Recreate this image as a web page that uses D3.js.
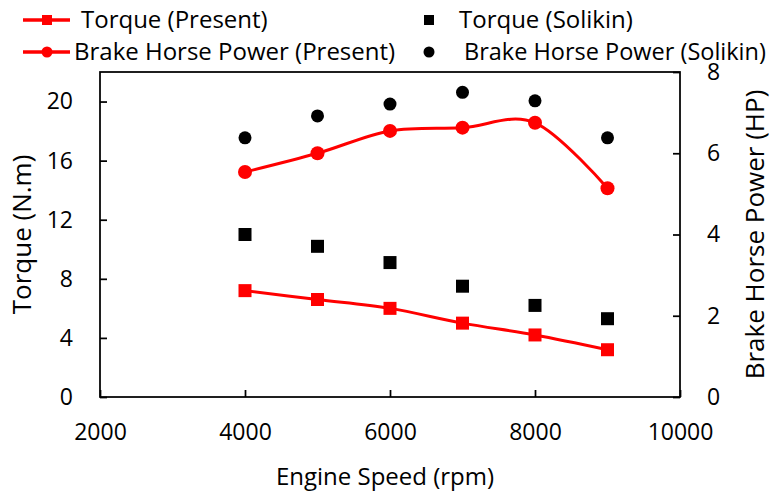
<!DOCTYPE html>
<html>
<head>
<meta charset="utf-8">
<script src="https://cdn.jsdelivr.net/npm/d3@7"></script>
<style>
  body { margin: 0; background: white; }
  text { font-family: "Open Sans", sans-serif; fill: #000; }
</style>
</head>
<body>
<script>
// ==== Data ====
var speeds = [4000, 5000, 6000, 7000, 8000, 9000];
var torquePresent = [7.2, 6.6, 6.0, 5.0, 4.2, 3.2];
var torqueSolikin = [11.0, 10.2, 9.1, 7.5, 6.2, 5.3];
var bhpPresent = [5.54, 6.0, 6.55, 6.63, 6.75, 5.14];
var bhpSolikin = [6.38, 6.92, 7.21, 7.5, 7.29, 6.38];

var xTicks = [2000, 4000, 6000, 8000, 10000];
var leftTicks = [0, 4, 8, 12, 16, 20];
var rightTicks = [0, 2, 4, 6, 8];

var red = "#ff0000",
    black = "#000000";

var width = 777,
    height = 493;

var margin = {
        top: 72,
        right: 97,
        bottom: 96,
        left: 100
    };

var svg = d3.select("body")
    .append("svg")
    .attr("width", width)
    .attr("height", height);

var x = d3.scaleLinear()
    .domain([2000, 10000])
    .range([margin.left, width - margin.right]);

var yL = d3.scaleLinear()
    .domain([0, 22])
    .range([height - margin.bottom, margin.top]);

var yR = d3.scaleLinear()
    .domain([0, 8])
    .range([height - margin.bottom, margin.top]);

function pts(vals) {
    return speeds.map(function(s, i) { return [s, vals[i]]; });
}

// ==== Axes ====
var gx = svg.append("g")
    .attr("transform", "translate(0," + yL(0) + ")")
    .call(d3.axisBottom(x).tickValues(xTicks).tickFormat(d3.format("d"))
        .tickSizeInner(-7).tickSizeOuter(0).tickPadding(27));

var gl = svg.append("g")
    .attr("transform", "translate(" + x(2000) + ",0)")
    .call(d3.axisLeft(yL).tickValues(leftTicks)
        .tickSizeInner(-7).tickSizeOuter(0).tickPadding(27));

var gr = svg.append("g")
    .attr("transform", "translate(" + x(10000) + ",0)")
    .call(d3.axisRight(yR).tickValues(rightTicks)
        .tickSizeInner(-7).tickSizeOuter(0).tickPadding(27));

[gx, gl, gr].forEach(function(g) {
    g.selectAll("text")
        .attr("font-family", '"Open Sans", sans-serif')
        .attr("font-size", "23px");
    g.selectAll("line").attr("stroke", black).attr("stroke-width", 1.75);
    g.select(".domain").remove();
});

// plot frame
svg.append("rect")
    .attr("x", x(2000))
    .attr("y", yL(22))
    .attr("width", x(10000) - x(2000))
    .attr("height", yL(0) - yL(22))
    .attr("fill", "none")
    .attr("stroke", black)
    .attr("stroke-width", 1.75);

// axis titles
svg.append("text")
    .text("Engine Speed (rpm)")
    .attr("x", (x(2000) + x(10000)) / 2 - 5)
    .attr("y", 485)
    .attr("text-anchor", "middle")
    .attr("font-size", "24px");

svg.append("text")
    .text("Torque (N.m)")
    .attr("transform", "translate(31," + (yL(0) + yL(22)) / 2 + ") rotate(-90)")
    .attr("text-anchor", "middle")
    .attr("font-size", "26px");

svg.append("text")
    .text("Brake Horse Power (HP)")
    .attr("transform", "translate(764," + (yL(0) + yL(22)) / 2 + ") rotate(-90)")
    .attr("text-anchor", "middle")
    .attr("font-size", "26px");

// ==== Series ====
var lineL = d3.line()
    .x(function(d) { return x(d[0]); })
    .y(function(d) { return yL(d[1]); })
    .curve(d3.curveCatmullRom.alpha(0));

var lineR = d3.line()
    .x(function(d) { return x(d[0]); })
    .y(function(d) { return yR(d[1]); })
    .curve(d3.curveCatmullRom.alpha(0));

svg.append("path")
    .datum(pts(torquePresent))
    .attr("d", lineL)
    .attr("fill", "none")
    .attr("stroke", red)
    .attr("stroke-width", 3);

svg.append("path")
    .datum(pts(bhpPresent))
    .attr("d", lineR)
    .attr("fill", "none")
    .attr("stroke", red)
    .attr("stroke-width", 3);

// red squares - torque present
svg.append("g").selectAll("rect")
    .data(pts(torquePresent))
    .join("rect")
    .attr("x", function(d) { return x(d[0]) - 6.5; })
    .attr("y", function(d) { return yL(d[1]) - 6.5; })
    .attr("width", 13)
    .attr("height", 13)
    .attr("fill", red);

// black squares - torque solikin
svg.append("g").selectAll("rect")
    .data(pts(torqueSolikin))
    .join("rect")
    .attr("x", function(d) { return x(d[0]) - 6.5; })
    .attr("y", function(d) { return yL(d[1]) - 6.5; })
    .attr("width", 13)
    .attr("height", 13)
    .attr("fill", black);

// red circles - bhp present
svg.append("g").selectAll("circle")
    .data(pts(bhpPresent))
    .join("circle")
    .attr("cx", function(d) { return x(d[0]); })
    .attr("cy", function(d) { return yR(d[1]); })
    .attr("r", 7)
    .attr("fill", red);

// black circles - bhp solikin
svg.append("g").selectAll("circle")
    .data(pts(bhpSolikin))
    .join("circle")
    .attr("cx", function(d) { return x(d[0]); })
    .attr("cy", function(d) { return yR(d[1]); })
    .attr("r", 6.5)
    .attr("fill", black);

// ==== Legend ====
var leg = svg.append("g");

leg.append("line")
    .attr("x1", 23).attr("x2", 70)
    .attr("y1", 20).attr("y2", 20)
    .attr("stroke", red).attr("stroke-width", 3.5);
leg.append("rect")
    .attr("x", 42).attr("y", 15)
    .attr("width", 10).attr("height", 10)
    .attr("fill", red);
leg.append("text")
    .text("Torque (Present)")
    .attr("x", 81).attr("y", 20)
    .attr("dy", "0.35em")
    .attr("font-size", "24px");

leg.append("line")
    .attr("x1", 23).attr("x2", 70)
    .attr("y1", 52).attr("y2", 52)
    .attr("stroke", red).attr("stroke-width", 3.5);
leg.append("circle")
    .attr("cx", 47).attr("cy", 52)
    .attr("r", 5.5)
    .attr("fill", red);
leg.append("text")
    .text("Brake Horse Power (Present)")
    .attr("x", 74).attr("y", 52)
    .attr("dy", "0.35em")
    .attr("font-size", "24px");

leg.append("rect")
    .attr("x", 424).attr("y", 15)
    .attr("width", 10).attr("height", 10)
    .attr("fill", black);
leg.append("text")
    .text("Torque (Solikin)")
    .attr("x", 459).attr("y", 20)
    .attr("dy", "0.35em")
    .attr("font-size", "24px");

leg.append("circle")
    .attr("cx", 429).attr("cy", 52)
    .attr("r", 5.5)
    .attr("fill", black);
leg.append("text")
    .text("Brake Horse Power (Solikin)")
    .attr("x", 464).attr("y", 52)
    .attr("dy", "0.35em")
    .attr("font-size", "23.5px");
</script>
</body>
</html>
